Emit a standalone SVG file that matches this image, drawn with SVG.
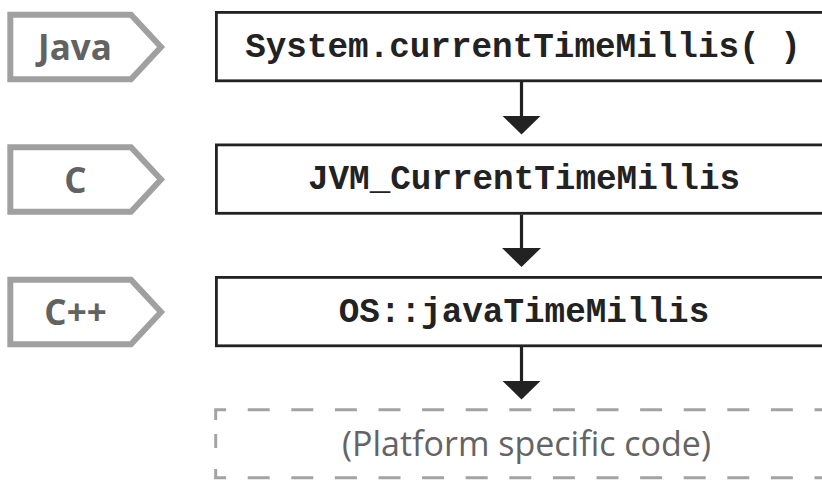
<svg xmlns="http://www.w3.org/2000/svg" width="822" height="480" viewBox="0 0 822 480">
  <defs>
    <style>
      .tag { fill: #ffffff; stroke: #a0a0a0; stroke-width: 6; stroke-linejoin: miter; }
      .tag-text { font-family: "Open Sans", "Noto Sans", "Liberation Sans", sans-serif; font-weight: 700; font-size: 35px; fill: #626262; text-anchor: middle; }
      .box { fill: #ffffff; stroke: #222222; stroke-width: 2.8; }
      .code { font-family: "Liberation Mono", "DejaVu Sans Mono", monospace; font-weight: 700; font-size: 34.3px; fill: #222222; text-anchor: middle; }
      .dash { fill: none; stroke: #a3a3a3; stroke-width: 3; }
      .dash-h { stroke-dasharray: 22 21.6; stroke-dashoffset: 10.1; }
      .dash-v { stroke-dasharray: 10.2 14 14 21 10 40; }
      .note { font-family: "Open Sans", "Noto Sans", "Liberation Sans", sans-serif; font-size: 34px; fill: #646464; text-anchor: middle; }
      .link { fill: none; stroke: #222222; stroke-width: 3.2; marker-end: url(#head); }
    </style>
    <marker id="head" viewBox="0 0 19 39" refX="0.5" refY="19.5" markerWidth="19" markerHeight="39" markerUnits="userSpaceOnUse" orient="auto">
      <path d="M0,0 L19,19.5 L0,39 Z" fill="#222222"/>
    </marker>
  </defs>

  <rect width="822" height="480" fill="#ffffff"/>

  <!-- language tags -->
  <g id="tag-java">
    <path class="tag" d="M10.3,14.7 H131 L161,47 L131,79.3 H10.3 Z"/>
    <text class="tag-text" x="75" y="60">Java</text>
  </g>
  <g id="tag-c">
    <path class="tag" d="M10.3,147.2 H131 L161,179.5 L131,211.8 H10.3 Z"/>
    <text class="tag-text" x="75.5" y="192.5">C</text>
  </g>
  <g id="tag-cpp">
    <path class="tag" d="M10.3,279.7 H131 L161,312 L131,344.3 H10.3 Z"/>
    <text class="tag-text" x="75.5" y="325">C++</text>
  </g>

  <!-- call chain -->
  <g id="node-system">
    <rect class="box" x="216.4" y="12.4" width="620" height="68.4"/>
    <text class="code" x="523" y="56.7">System.currentTimeMillis( )</text>
  </g>
  <g id="node-jvm">
    <rect class="box" x="216.4" y="144.9" width="620" height="68.4"/>
    <text class="code" x="524" y="189.2">JVM_CurrentTimeMillis</text>
  </g>
  <g id="node-os">
    <rect class="box" x="216.4" y="277.4" width="620" height="68.4"/>
    <text class="code" x="524" y="321.7">OS::javaTimeMillis</text>
  </g>
  <g id="node-platform">
    <path class="dash dash-h" d="M214.2,409.8 H840"/>
    <path class="dash dash-h" d="M214.2,477.8 H840"/>
    <path class="dash dash-v" d="M215.7,409.8 V479"/>
    <text class="note" x="526.5" y="456">(Platform specific code)</text>
  </g>

  <!-- connectors -->
  <g id="connectors">
    <path class="link" d="M521.5,82 V116"/>
    <path class="link" d="M521.5,214.5 V248.5"/>
    <path class="link" d="M521.5,347 V381"/>
  </g>
</svg>
